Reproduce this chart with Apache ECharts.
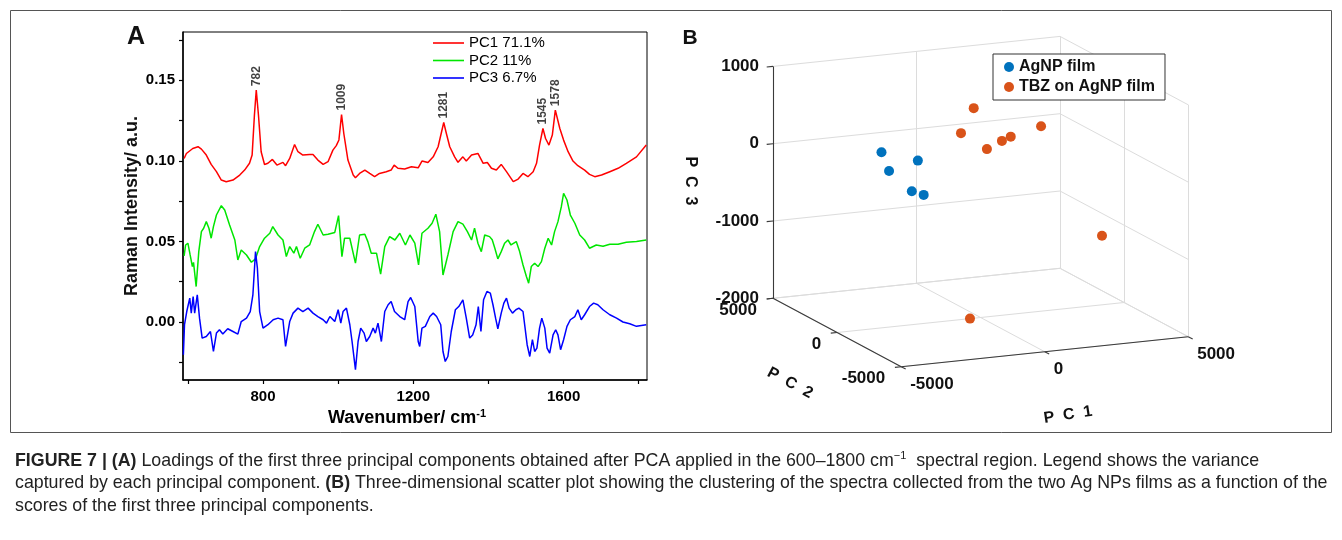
<!DOCTYPE html>
<html>
<head>
<meta charset="utf-8">
<title>Figure 7</title>
<script src="https://cdn.jsdelivr.net/npm/echarts@6/dist/echarts.min.js"></script>
<style>
  html, body { margin: 0; padding: 0; background: #fff; }
  #chart { width: 1342px; height: 540px; }
</style>
</head>
<body>
<div id="chart"></div>
<script>
'use strict';

// ---- panel A : PCA loadings (wavenumber, loading) ----
var wnTicks = [600, 800, 1000, 1200, 1400, 1600, 1800];
var wnLabels = [800, 1200, 1600];
var intTicks = [-0.025, 0, 0.025, 0.05, 0.075, 0.1, 0.125, 0.15, 0.175];
var intLabels = [0, 0.05, 0.1, 0.15];

var pcNames = ['PC1 71.1%', 'PC2 11%', 'PC3 6.7%'];

var pc1 = [[590,0.1015],[596,0.1046],[613,0.1077],[627,0.1088],[636,0.1073],[649,0.1036],[662,0.0978],[676,0.0933],
  [689,0.0881],[702,0.0871],[720,0.0881],[738,0.0912],[751,0.0943],[764,0.0985],[771,0.1036],[777,0.128],[782,0.1439],
  [788,0.128],[795,0.1057],[804,0.0978],[813,0.0985],[825,0.1009],[837,0.0974],[853,0.0991],[860,0.097],[871,0.1015],
  [884,0.1102],[893,0.1057],[906,0.1036],[924,0.104],[933,0.104],[946,0.1005],[960,0.0978],[973,0.0995],[986,0.1067],
  [995,0.1095],[1002,0.113],[1009,0.1288],[1015,0.117],[1026,0.1005],[1040,0.0912],[1046,0.0895],[1057,0.0922],
  [1071,0.0943],[1084,0.0922],[1097,0.0902],[1110,0.0922],[1128,0.0933],[1141,0.0943],[1149,0.0974],[1159,0.0954],
  [1177,0.095],[1195,0.0964],[1213,0.0957],[1223,0.0999],[1239,0.099],[1253,0.1025],[1266,0.1088],[1281,0.1238],
  [1288,0.117],[1297,0.1088],[1310,0.1025],[1319,0.0991],[1332,0.1025],[1341,0.0999],[1355,0.1036],[1372,0.1046],
  [1386,0.0985],[1397,0.099],[1408,0.0954],[1421,0.0943],[1434,0.0978],[1448,0.0933],[1466,0.0871],[1479,0.0887],
  [1492,0.0922],[1505,0.0902],[1519,0.0933],[1528,0.0985],[1536,0.1098],[1545,0.1201],[1552,0.1139],[1561,0.1098],
  [1570,0.116],[1578,0.1315],[1590,0.1201],[1600,0.1129],[1612,0.1057],[1625,0.0999],[1638,0.097],[1656,0.0943],
  [1669,0.0916],[1683,0.0902],[1701,0.0912],[1723,0.0933],[1745,0.0954],[1767,0.0985],[1794,0.1025],[1820,0.1098]];

var pc2 = [[590,0.041],[594,0.0478],[600,0.0489],[606,0.0416],[612,0.0344],[615,0.037],[622,0.022],[629,0.0437],
  [636,0.0561],[642,0.0582],[649,0.0623],[656,0.0582],[662,0.052],[668,0.0592],[676,0.0664],[689,0.0722],[698,0.0695],
  [711,0.0602],[725,0.0509],[733,0.0385],[742,0.0447],[756,0.0416],[769,0.0371],[780,0.0392],[791,0.0468],[804,0.052],
  [818,0.0551],[826,0.0592],[840,0.054],[853,0.0509],[862,0.0406],[871,0.0468],[882,0.0427],[889,0.0468],[899,0.0396],
  [911,0.0458],[924,0.0478],[937,0.0561],[946,0.0607],[960,0.054],[973,0.0545],[991,0.0556],[1001,0.066],[1010,0.0406],
  [1017,0.052],[1031,0.052],[1046,0.0365],[1057,0.054],[1071,0.0545],[1079,0.0499],[1088,0.0427],[1102,0.0427],
  [1113,0.0297],[1124,0.0468],[1137,0.053],[1151,0.0509],[1164,0.0551],[1179,0.0478],[1191,0.054],[1204,0.0489],
  [1214,0.0354],[1223,0.0551],[1239,0.0582],[1250,0.0613],[1260,0.0669],[1270,0.0561],[1279,0.0292],[1292,0.0416],
  [1306,0.0561],[1319,0.0623],[1332,0.0607],[1344,0.0561],[1355,0.0509],[1363,0.0582],[1372,0.0489],[1381,0.0437],
  [1390,0.054],[1403,0.053],[1410,0.051],[1417,0.0458],[1425,0.0392],[1434,0.0437],[1443,0.0489],[1452,0.0509],
  [1460,0.0478],[1474,0.0499],[1483,0.0437],[1492,0.0354],[1501,0.0282],[1507,0.0241],[1514,0.0344],[1523,0.0365],
  [1532,0.0344],[1541,0.0375],[1550,0.0458],[1559,0.052],[1568,0.0478],[1576,0.0561],[1585,0.0623],[1594,0.0716],
  [1600,0.0799],[1609,0.0757],[1618,0.0664],[1630,0.0613],[1643,0.054],[1656,0.0509],[1669,0.0458],[1687,0.0478],
  [1705,0.047],[1723,0.0483],[1745,0.0483],[1767,0.0495],[1794,0.0499],[1820,0.0509]];

var pc3 = [[588,-0.0203],[591,-0.0017],[597,0.0065],[605,0.0148],[609,0.0055],[614,0.0158],[618,0.0055],[625,0.0168],
  [631,0.0024],[638,-0.01],[649,-0.009],[660,-0.0059],[668,-0.0183],[676,-0.0069],[684,-0.0048],[693,-0.0075],
  [706,-0.0042],[720,-0.0059],[733,-0.0075],[742,0.0003],[756,0.0024],[766,0.0065],[773,0.0168],[780,0.0437],
  [785,0.0334],[791,0.0065],[800,-0.0038],[813,-0.0017],[827,0.0014],[840,0.0024],[853,0.0014],[860,-0.0152],
  [871,0.0003],[880,0.0055],[893,0.0086],[906,0.0065],[920,0.0086],[933,0.0055],[946,0.0034],[960,0.0014],
  [969,-0.0007],[978,0.0034],[991,0.0003],[1000,0.0076],[1007,-0.0007],[1013,0.0065],[1022,0.0086],[1031,-0.0017],
  [1037,-0.0121],[1046,-0.0296],[1053,-0.0121],[1060,-0.0038],[1069,-0.0069],[1075,-0.0121],[1084,-0.009],
  [1093,-0.0038],[1099,-0.0069],[1106,-0.0007],[1115,-0.0121],[1124,0.0065],[1133,0.0107],[1141,0.0127],[1150,0.0065],
  [1164,0.0034],[1177,0.0014],[1186,0.0127],[1193,0.0152],[1204,0.0096],[1213,-0.0121],[1217,-0.0152],[1223,-0.0038],
  [1232,-0.0027],[1244,0.0034],[1253,0.0055],[1262,0.0034],[1273,-0.0017],[1279,-0.0183],[1285,-0.0245],
  [1292,-0.0214],[1301,-0.0059],[1312,0.0076],[1321,0.0096],[1332,0.0138],[1341,0.0024],[1350,-0.01],[1358,-0.008],
  [1367,-0.0017],[1373,0.0096],[1380,-0.0059],[1387,0.0138],[1396,0.0189],[1405,0.0179],[1412,0.0107],[1419,0.0024],
  [1425,-0.0042],[1434,0.0055],[1441,0.0117],[1448,0.0148],[1455,0.0086],[1464,0.0055],[1473,0.0076],[1481,0.0086],
  [1492,0.0065],[1496,0.0055],[1503,-0.0141],[1510,-0.0214],[1517,-0.011],[1523,-0.0183],[1529,-0.0162],
  [1536,-0.0038],[1542,0.0024],[1550,-0.0038],[1556,-0.0162],[1563,-0.0193],[1572,-0.008],[1579,-0.0048],
  [1585,-0.008],[1592,-0.0172],[1600,-0.011],[1609,-0.0027],[1618,0.0014],[1630,0.0034],[1638,0.0076],[1647,0.0014],
  [1656,0.0045],[1669,0.0096],[1680,0.0117],[1691,0.0107],[1705,0.0076],[1723,0.0045],[1741,0.0024],[1758,0.0],
  [1776,-0.0011],[1794,-0.0027],[1820,-0.0017]];

var peakWn = [782, 1009, 1281, 1545, 1578];
var peakVal = [0.1439, 0.1288, 0.1238, 0.1201, 0.1315];

// ---- panel B : PCA scores (PC1, PC2, PC3) ----
var scoreNames = ['AgNP film', 'TBZ on AgNP film'];
var agnp = [[-2560, 2000, 60], [-2520, 1500, -140], [-1070, 2500, -150], [-1950, 1000, -380], [-1760, 500, -390]];
var tbz = [[1100, 3000, 400], [210, 2000, 200], [220, 0, 170], [1190, 1000, 150], [1720, 1500, 140],
  [3000, 2000, 180], [2890, -3000, -790], [-370, 0, -2000]];
var pc1Ticks = [-5000, 0, 5000];
var pc2Ticks = [-5000, 0, 5000];
var pc3Ticks = [-2000, -1000, 0, 1000];

var FONT = 'Liberation Sans, Arial, Helvetica, sans-serif';

// fixed oblique view of the 3D box: anchor corner (PC1 min, PC2 max, PC3 min) + unit vectors in px
var view = { ox: 773, oy: 298.3, e1: [0.0287, -0.003], e2: [-0.01282, -0.00684], e3: [0, -0.0773] };
function proj(p1, p2, p3) {
  var a = p1 - pc1Ticks[0], b = p2 - pc2Ticks[pc2Ticks.length - 1], c = p3 - pc3Ticks[0];
  return [view.ox + view.e1[0] * a + view.e2[0] * b + view.e3[0] * c,
          view.oy + view.e1[1] * a + view.e2[1] * b + view.e3[1] * c];
}

var p1min = pc1Ticks[0], p1max = pc1Ticks[pc1Ticks.length - 1];
var p2min = pc2Ticks[0], p2max = pc2Ticks[pc2Ticks.length - 1];
var p3min = pc3Ticks[0], p3max = pc3Ticks[pc3Ticks.length - 1];

// light grid on back wall, side wall and floor
var gridSegs = [];
pc3Ticks.forEach(function(t) {
  gridSegs.push([proj(p1min, p2max, t), proj(p1max, p2max, t)]);
  gridSegs.push([proj(p1max, p2min, t), proj(p1max, p2max, t)]);
});
pc1Ticks.forEach(function(t) {
  gridSegs.push([proj(t, p2max, p3min), proj(t, p2max, p3max)]);
  gridSegs.push([proj(t, p2min, p3min), proj(t, p2max, p3min)]);
});
pc2Ticks.forEach(function(t) {
  gridSegs.push([proj(p1max, t, p3min), proj(p1max, t, p3max)]);
  gridSegs.push([proj(p1min, t, p3min), proj(p1max, t, p3min)]);
});

// dark axis lines + ticks
var axisSegs = [
  [proj(p1min, p2max, p3min), proj(p1min, p2max, p3max)],
  [proj(p1min, p2max, p3min), proj(p1min, p2min, p3min)],
  [proj(p1min, p2min, p3min), proj(p1max, p2min, p3min)]
];
pc3Ticks.forEach(function(t) { axisSegs.push([proj(p1min, p2max, t), proj(p1min - 220, p2max, t)]); });
pc2Ticks.forEach(function(t) { axisSegs.push([proj(p1min, t, p3min), proj(p1min - 220, t, p3min)]); });
pc1Ticks.forEach(function(t) { axisSegs.push([proj(t, p2min, p3min), proj(t, p2min - 350, p3min)]); });

function bTxt(x, y, text, align, size, rot) {
  return {
    type: 'text', x: x, y: y, rotation: rot || 0, silent: true,
    style: { text: text, fontFamily: FONT, fontWeight: 'bold', fontSize: size || 17, fill: '#111',
             align: align || 'center', verticalAlign: 'middle' }
  };
}

var graphics = [
  { type: 'rect', shape: { x: 10.5, y: 10.5, width: 1321, height: 422 }, silent: true,
    style: { fill: 'none', stroke: '#555', lineWidth: 1 } },
  bTxt(136, 37, 'A', 'center', 25),
  bTxt(690, 38, 'B', 'center', 21),
  bTxt(132, 206, 'Raman Intensity/ a.u.', 'center', 18, Math.PI / 2),
  { type: 'text', x: 407, y: 418, silent: true,
    style: { text: 'Wavenumber/ cm{s|-1}', fontFamily: FONT, fontWeight: 'bold', fontSize: 18, fill: '#000',
             align: 'center', verticalAlign: 'middle', lineHeight: 20,
             rich: { s: { fontFamily: FONT, fontWeight: 'bold', fontSize: 11, lineHeight: 11, verticalAlign: 'top', fill: '#000' } } } },
  bTxt(690, 181, 'P  C  3', 'center', 16, -Math.PI / 2),
  bTxt(790, 383, 'P  C  2', 'center', 16, -0.49),
  bTxt(1068, 415, 'P  C  1', 'center', 16, 0.15)
];
pc3Ticks.forEach(function(t) {
  var p = proj(p1min, p2max, t);
  graphics.push(bTxt(p[0] - 14, p[1], String(t), 'right'));
});
pc2Ticks.forEach(function(t) {
  var p = proj(p1min, t, p3min);
  graphics.push(bTxt(p[0] - 16, p[1] + 12, String(t), 'right'));
});
pc1Ticks.forEach(function(t) {
  var p = proj(t, p2min, p3min);
  graphics.push(bTxt(p[0] + 9, p[1] + 18, String(t), 'left'));
});

// caption
var capSize = 17.8;
var capRich = {
  n: { fontFamily: FONT, fontSize: capSize, lineHeight: 22, fill: '#222' },
  b: { fontFamily: FONT, fontSize: capSize, lineHeight: 22, fontWeight: 'bold', fill: '#222' },
  s: { fontFamily: FONT, fontSize: 11, lineHeight: 11, verticalAlign: 'top', fill: '#222' }
};
var capLines = [
  '{b|FIGURE 7 | (A)}{n| Loadings of the first three principal components obtained after PCA applied in the 600\u20131800 cm}{s|\u22121}{n|  spectral region. Legend shows the variance}',
  '{n|captured by each principal component. }{b|(B)}{n| Three-dimensional scatter plot showing the clustering of the spectra collected from the two Ag NPs films as a function of the}',
  '{n|scores of the first three principal components.}'
];
capLines.forEach(function(t, i) {
  graphics.push({ type: 'text', x: 15, y: 461 + i * 22.5, silent: true,
    style: { text: t, rich: capRich, fontFamily: FONT, fontSize: capSize, fill: '#222', align: 'left', verticalAlign: 'middle' } });
});

var lineColors = ['#ff0000', '#00e600', '#0000ff'];
var axisTxt = { fontFamily: FONT, fontWeight: 'bold', fontSize: 15, color: '#000' };

var option = {
  animation: false,
  backgroundColor: '#fff',
  grid: [
    { left: 183, top: 32, width: 464, height: 348, show: true, borderColor: '#000', borderWidth: 1 },
    { left: 0, top: 0, width: 1342, height: 540, show: false }
  ],
  legend: [
    { data: pcNames, orient: 'vertical', left: 433, top: 35, icon: 'rect', itemWidth: 31, itemHeight: 1.6,
      itemGap: 1.5, padding: 0,
      textStyle: { fontFamily: FONT, fontSize: 15, color: '#000', lineHeight: 16 } },
    { data: scoreNames, orient: 'vertical', left: 993, top: 54, itemWidth: 10, itemHeight: 10, itemGap: 4,
      padding: [5, 10, 5, 11], borderColor: '#333', borderWidth: 1, backgroundColor: '#fff',
      textStyle: { fontFamily: FONT, fontSize: 16, fontWeight: 'bold', color: '#111' } }
  ],
  xAxis: [
    { gridIndex: 0, type: 'value', min: 587, max: 1822,
      axisLine: { show: true, onZero: false, lineStyle: { color: '#000', width: 1.5 } },
      axisTick: { show: true, customValues: wnTicks, length: 4, lineStyle: { color: '#000', width: 1.2 } },
      axisLabel: Object.assign({ customValues: wnLabels, margin: 9,
        formatter: function(v) { return String(v); } }, axisTxt),
      splitLine: { show: false } },
    { gridIndex: 1, type: 'value', min: 0, max: 1342, show: false }
  ],
  yAxis: [
    { gridIndex: 0, type: 'value', min: -0.036, max: 0.18,
      axisLine: { show: true, onZero: false, lineStyle: { color: '#000', width: 1.5 } },
      axisTick: { show: true, customValues: intTicks, length: 4, lineStyle: { color: '#000', width: 1.2 } },
      axisLabel: Object.assign({ customValues: intLabels, margin: 8,
        formatter: function(v) { return v.toFixed(2); } }, axisTxt),
      splitLine: { show: false } },
    { gridIndex: 1, type: 'value', min: 0, max: 540, inverse: true, show: false }
  ],
  series: [
    { name: pcNames[0], type: 'line', data: pc1, symbol: 'none', color: lineColors[0], lineStyle: { width: 1.5 } },
    { name: pcNames[1], type: 'line', data: pc2, symbol: 'none', color: lineColors[1], lineStyle: { width: 1.5 } },
    { name: pcNames[2], type: 'line', data: pc3, symbol: 'none', color: lineColors[2], lineStyle: { width: 1.5 } },
    { name: 'peaks', type: 'scatter', symbolSize: 0, silent: true,
      data: peakWn.map(function(w, i) { return [w, peakVal[i]]; }),
      label: { show: true, position: 'top', distance: 4, rotate: 90, align: 'left', verticalAlign: 'middle',
               formatter: function(p) { return p.value[0]; },
               fontFamily: FONT, fontWeight: 'bold', fontSize: 12, color: '#111' } },
    { name: 'boxGrid', type: 'lines', coordinateSystem: 'cartesian2d', xAxisIndex: 1, yAxisIndex: 1, silent: true,
      data: gridSegs.map(function(s) { return { coords: s }; }),
      lineStyle: { color: '#dcdcdc', width: 1, opacity: 1 } },
    { name: 'boxAxes', type: 'lines', coordinateSystem: 'cartesian2d', xAxisIndex: 1, yAxisIndex: 1, silent: true,
      data: axisSegs.map(function(s) { return { coords: s }; }),
      lineStyle: { color: '#3a3a3a', width: 1.1, opacity: 1 } },
    { name: scoreNames[0], type: 'scatter', xAxisIndex: 1, yAxisIndex: 1, symbol: 'circle', symbolSize: 10, z: 5,
      itemStyle: { color: '#0072BD', opacity: 1 },
      data: agnp.map(function(p) { return proj(p[0], p[1], p[2]); }) },
    { name: scoreNames[1], type: 'scatter', xAxisIndex: 1, yAxisIndex: 1, symbol: 'circle', symbolSize: 10, z: 5,
      itemStyle: { color: '#D95319', opacity: 1 },
      data: tbz.map(function(p) { return proj(p[0], p[1], p[2]); }) }
  ],
  graphic: graphics
};

var myChart = echarts.init(document.getElementById('chart'));
myChart.setOption(option);
</script>
</body>
</html>
